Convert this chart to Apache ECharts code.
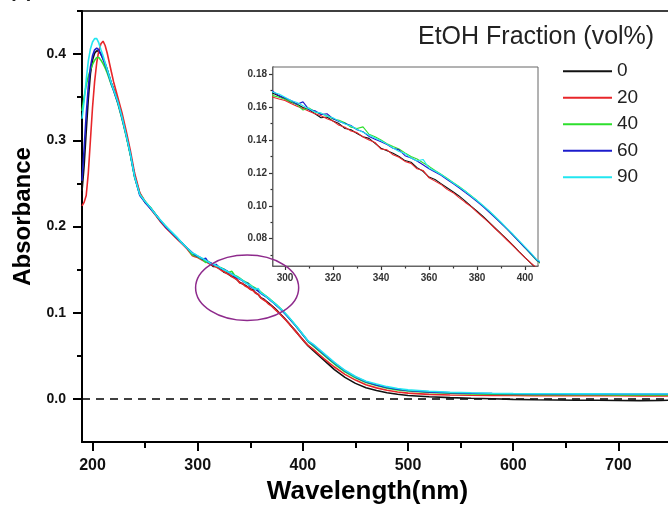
<!DOCTYPE html>
<html>
<head>
<meta charset="utf-8">
<script src="https://cdn.jsdelivr.net/npm/echarts@6/dist/echarts.min.js"></script>
<style>
  html, body { margin: 0; padding: 0; background: #fff; }
  #chart { width: 668px; height: 506px; }
</style>
</head>
<body>
<div id="chart"></div>
<script>
// wavelength grid (nm), shared by all curves
const wavelength = [
  190, 192, 194, 196, 198, 200, 202, 204, 206, 208, 210, 212, 214, 216, 218, 220,
  224, 228, 232, 236, 240,
  245, 250, 255, 260, 265, 270, 275, 280, 285, 290,
  295, 297.5, 300, 302.5, 305, 307.5, 310, 312.5, 315, 317.5, 320, 322.5, 325, 327.5, 330,
  332.5, 335, 337.5, 340, 342.5, 345, 347.5, 350, 352.5, 355, 357.5, 360, 362.5, 365, 367.5,
  370, 372.5, 375, 377.5, 380, 382.5, 385, 387.5, 390, 392.5, 395, 397.5, 400, 402.5, 405,
  410, 415, 420, 425, 430, 440, 450, 460, 470, 480, 490, 500, 520, 540, 560, 580, 600,
  620, 640, 660, 680, 700, 720, 740, 750
];

const etoh0 = [
  0.241, 0.270, 0.310, 0.348, 0.377, 0.393, 0.401, 0.404, 0.403, 0.400, 0.395, 0.389, 0.382, 0.374, 0.366, 0.360,
  0.345, 0.327, 0.307, 0.284, 0.259,
  0.238, 0.228, 0.222, 0.214, 0.206, 0.199, 0.193, 0.187, 0.181, 0.175,
  0.1685, 0.1668, 0.1650, 0.1630, 0.1618, 0.1598, 0.1585, 0.1560, 0.1535, 0.1540, 0.1515, 0.1500, 0.1470, 0.1462, 0.1440,
  0.1420, 0.1410, 0.1380, 0.1350, 0.1335, 0.1320, 0.1300, 0.1275, 0.1265, 0.1232, 0.1210, 0.1175, 0.1160, 0.1135, 0.1110,
  0.1085, 0.1060, 0.1030, 0.0998, 0.0968, 0.0935, 0.0900, 0.0865, 0.0830, 0.0795, 0.0760, 0.0722, 0.0685, 0.0650, 0.0615,
  0.056, 0.0505, 0.045, 0.0395, 0.034, 0.025, 0.018, 0.013, 0.0098, 0.0072, 0.0054, 0.004, 0.0025, 0.0015, 0.0008, 0.0002, -0.0005,
  -0.001, -0.0012, -0.0015, -0.0015, -0.0018, -0.002, -0.0018, -0.0015
];
const etoh20 = [
  0.224, 0.228, 0.236, 0.262, 0.300, 0.338, 0.368, 0.390, 0.404, 0.412, 0.415, 0.410, 0.401, 0.390, 0.379, 0.368,
  0.350, 0.332, 0.311, 0.288, 0.262,
  0.239, 0.229, 0.221, 0.213, 0.205, 0.198, 0.192, 0.186, 0.180, 0.174,
  0.1660, 0.1650, 0.1640, 0.1622, 0.1605, 0.1592, 0.1575, 0.1560, 0.1548, 0.1530, 0.1515, 0.1490, 0.1478, 0.1455, 0.1445,
  0.1418, 0.1400, 0.1385, 0.1345, 0.1340, 0.1310, 0.1295, 0.1270, 0.1258, 0.1225, 0.1215, 0.1170, 0.1150, 0.1130, 0.1100,
  0.1080, 0.1050, 0.1022, 0.0995, 0.0962, 0.0930, 0.0898, 0.0862, 0.0828, 0.0792, 0.0757, 0.0720, 0.0685, 0.0652, 0.0620,
  0.0575, 0.052, 0.0468, 0.0418, 0.037, 0.0285, 0.0218, 0.0165, 0.0128, 0.0100, 0.0080, 0.0067, 0.0053, 0.0046, 0.0042, 0.0040, 0.0039,
  0.0038, 0.0037, 0.0037, 0.0036, 0.0036, 0.0035, 0.0035, 0.0035
];
const etoh40 = [
  0.334, 0.350, 0.364, 0.374, 0.382, 0.388, 0.393, 0.396, 0.396, 0.393, 0.389, 0.384, 0.378, 0.371, 0.364, 0.358,
  0.343, 0.325, 0.305, 0.283, 0.257,
  0.237, 0.229, 0.222, 0.214, 0.206, 0.200, 0.193, 0.187, 0.181, 0.175,
  0.1670, 0.1660, 0.1648, 0.1632, 0.1615, 0.1582, 0.1595, 0.1570, 0.1558, 0.1548, 0.1528, 0.1520, 0.1505, 0.1478, 0.1470,
  0.1480, 0.1435, 0.1420, 0.1400, 0.1378, 0.1360, 0.1345, 0.1322, 0.1300, 0.1285, 0.1262, 0.1240, 0.1215, 0.1192, 0.1168,
  0.1142, 0.1118, 0.1090, 0.1062, 0.1032, 0.1000, 0.0968, 0.0932, 0.0896, 0.0860, 0.0822, 0.0784, 0.0744, 0.0705, 0.0665,
  0.0612, 0.056, 0.0508, 0.0456, 0.0405, 0.0315, 0.0245, 0.019, 0.0155, 0.0125, 0.0105, 0.0092, 0.0075, 0.0065, 0.0058, 0.0054, 0.0051,
  0.005, 0.0049, 0.0048, 0.0048, 0.0047, 0.0047, 0.0047, 0.0047
];
const etoh60 = [
  0.253, 0.290, 0.330, 0.362, 0.385, 0.398, 0.405, 0.407, 0.405, 0.400, 0.394, 0.388, 0.381, 0.373, 0.365, 0.358,
  0.344, 0.326, 0.306, 0.284, 0.258,
  0.236, 0.228, 0.221, 0.214, 0.206, 0.199, 0.193, 0.187, 0.181, 0.175,
  0.1695, 0.1670, 0.1655, 0.1640, 0.1618, 0.1632, 0.1585, 0.1578, 0.1555, 0.1560, 0.1530, 0.1512, 0.1500, 0.1488, 0.1462,
  0.1450, 0.1422, 0.1405, 0.1390, 0.1372, 0.1350, 0.1340, 0.1305, 0.1290, 0.1272, 0.1250, 0.1225, 0.1205, 0.1185, 0.1160,
  0.1135, 0.1110, 0.1082, 0.1055, 0.1025, 0.0995, 0.0962, 0.0928, 0.0893, 0.0858, 0.0820, 0.0783, 0.0745, 0.0706, 0.0668,
  0.0625, 0.0572, 0.052, 0.0468, 0.0418, 0.0325, 0.0255, 0.0198, 0.0162, 0.0132, 0.0112, 0.0098, 0.0082, 0.0072, 0.0066, 0.0062, 0.0059,
  0.0057, 0.0056, 0.0055, 0.0055, 0.0054, 0.0054, 0.0054, 0.0054
];
const etoh90 = [
  0.325, 0.345, 0.370, 0.392, 0.406, 0.414, 0.418, 0.418, 0.413, 0.405, 0.398, 0.390, 0.382, 0.374, 0.366, 0.359,
  0.345, 0.327, 0.306, 0.284, 0.258,
  0.237, 0.229, 0.222, 0.214, 0.207, 0.200, 0.194, 0.188, 0.181, 0.175,
  0.1690, 0.1680, 0.1660, 0.1640, 0.1628, 0.1608, 0.1590, 0.1570, 0.1565, 0.1545, 0.1535, 0.1515, 0.1498, 0.1485, 0.1465,
  0.1448, 0.1430, 0.1412, 0.1395, 0.1375, 0.1352, 0.1330, 0.1318, 0.1290, 0.1272, 0.1282, 0.1230, 0.1212, 0.1190, 0.1165,
  0.1140, 0.1115, 0.1090, 0.1060, 0.1032, 0.1002, 0.0970, 0.0935, 0.0900, 0.0863, 0.0827, 0.0788, 0.0750, 0.0712, 0.0672,
  0.0632, 0.058, 0.0528, 0.0476, 0.0425, 0.0332, 0.026, 0.0205, 0.0172, 0.0142, 0.012, 0.0105, 0.0088, 0.0078, 0.0071, 0.0066, 0.0062,
  0.006, 0.0059, 0.0058, 0.0058, 0.0057, 0.0057, 0.0057, 0.0057
];

const seriesNames = ["0", "20", "40", "60", "90"];
const seriesValues = [etoh0, etoh20, etoh40, etoh60, etoh90];
const seriesColors = ["#111111", "#e8262a", "#2ddf2d", "#1c1ccc", "#22e6f0"];

// tick labels
const mainXTicks = [200, 300, 400, 500, 600, 700];
const mainXMinor = [250, 350, 450, 550, 650, 750];
const mainYTicks = [0, 0.1, 0.2, 0.3, 0.4];
const mainYMinor = [0.05, 0.15, 0.25, 0.35, 0.45];
const insetXTicks = [300, 320, 340, 360, 380, 400];
const insetXMinor = [310, 330, 350, 370, 390];
const insetYTicks = [0.08, 0.10, 0.12, 0.14, 0.16, 0.18];
const insetYMinor = [0.07, 0.09, 0.11, 0.13, 0.15, 0.17];

const FONT = "'Liberation Sans', Arial, sans-serif";

function pairs(vals) {
  return wavelength.map((w, i) => [w, vals[i]]);
}

function tickAxis(base, extra) {
  return Object.assign({
    type: "value",
    splitLine: { show: false },
    axisLine: { show: false, onZero: false },
    axisLabel: { show: false },
    axisTick: { show: false },
  }, base, extra);
}

const chart = echarts.init(document.getElementById("chart"));

const mainX = { gridIndex: 0, min: 190, max: 750, position: "bottom" };
const mainY = { gridIndex: 0, min: -0.05, max: 0.45, position: "left" };
const insetX = { gridIndex: 1, min: 295, max: 405.4, position: "bottom" };
const insetY = { gridIndex: 1, min: 0.0634, max: 0.1844, position: "left" };

const series = [];
seriesNames.forEach((name, k) => {
  series.push({
    name: name,
    type: "line",
    xAxisIndex: 0,
    yAxisIndex: 0,
    data: pairs(seriesValues[k]),
    showSymbol: false,
    symbol: "none",
    color: seriesColors[k],
    lineStyle: { width: 1.6, color: seriesColors[k] },
    z: 3,
    markLine: k === 0 ? {
      silent: true,
      symbol: ["none", "none"],
      label: { show: false },
      lineStyle: { type: [8, 6], color: "#000", width: 1.5 },
      data: [{ yAxis: 0 }],
      z: 2,
    } : undefined,
  });
});
seriesNames.forEach((name, k) => {
  series.push({
    name: name,
    type: "line",
    xAxisIndex: 4,
    yAxisIndex: 4,
    data: pairs(seriesValues[k]),
    showSymbol: false,
    symbol: "none",
    color: seriesColors[k],
    lineStyle: { width: 1.1, color: seriesColors[k] },
    clip: true,
    z: 5,
  });
});

chart.setOption({
  backgroundColor: "#ffffff",
  animation: false,
  textStyle: { fontFamily: FONT },
  title: {
    text: "EtOH Fraction (vol%)",
    left: 413,
    top: 20,
    textStyle: { fontFamily: FONT, fontSize: 25, fontWeight: "normal", color: "#222" },
  },
  legend: {
    orient: "vertical",
    left: 563,
    top: 58,
    padding: 0,
    icon: "rect",
    itemWidth: 49,
    itemHeight: 2,
    itemGap: 0,
    data: seriesNames,
    textStyle: { fontFamily: FONT, fontSize: 19, color: "#222", lineHeight: 26.5 },
  },
  grid: [
    {
      left: 82, top: 11, right: -3, bottom: 64, outerBoundsMode: "none",
      show: true, borderColor: "#000", borderWidth: 1.5, backgroundColor: "transparent",
    },
    {
      left: 273, top: 67, width: 265, height: 199, outerBoundsMode: "none",
      show: true, borderColor: "#666", borderWidth: 1, backgroundColor: "#fff", z: 4,
    },
  ],
  xAxis: [
    tickAxis(mainX, {
      name: "Wavelength(nm)",
      nameLocation: "middle",
      nameGap: 32,
      nameTextStyle: { fontFamily: FONT, fontSize: 26, fontWeight: "bold", color: "#000", padding: [0, 18, 0, 0] },
      axisLine: { show: true, onZero: false, lineStyle: { color: "#000", width: 2 } },
      axisTick: { show: true, inside: false, length: 9, lineStyle: { color: "#000", width: 2 }, customValues: mainXTicks },
      axisLabel: { show: true, customValues: mainXTicks, margin: 16, fontFamily: FONT, fontSize: 16, fontWeight: "bold", color: "#111" },
    }),
    tickAxis(mainX, {
      axisTick: { show: true, length: 6, lineStyle: { color: "#000", width: 2 }, customValues: mainXMinor },
    }),
    tickAxis(insetX, {
      axisLine: { show: true, onZero: false, lineStyle: { color: "#333", width: 1.5 } },
      axisTick: { show: true, length: 4, lineStyle: { color: "#333", width: 1.2 }, customValues: insetXTicks },
      axisLabel: { show: true, customValues: insetXTicks, margin: 7, fontFamily: FONT, fontSize: 10, fontWeight: "bold", color: "#333" },
    }),
    tickAxis(insetX, {
      axisTick: { show: true, length: 2.5, lineStyle: { color: "#333", width: 1.2 }, customValues: insetXMinor },
    }),
    tickAxis(insetX, {}),
  ],
  yAxis: [
    tickAxis(mainY, {
      name: "Absorbance",
      nameLocation: "middle",
      nameGap: 43,
      nameTextStyle: { fontFamily: FONT, fontSize: 24, fontWeight: "bold", color: "#000", padding: [0, 0, 0, 20] },
      axisLine: { show: true, onZero: false, lineStyle: { color: "#000", width: 2 } },
      axisTick: { show: true, length: 9, lineStyle: { color: "#000", width: 2 }, customValues: mainYTicks },
      axisLabel: {
        show: true, customValues: mainYTicks, margin: 16, fontFamily: FONT, fontSize: 14, fontWeight: "bold", color: "#111",
        formatter: (v) => Number(v).toFixed(1),
      },
    }),
    tickAxis(mainY, {
      axisTick: { show: true, length: 5, lineStyle: { color: "#000", width: 2 }, customValues: mainYMinor },
    }),
    tickAxis(insetY, {
      axisLine: { show: true, onZero: false, lineStyle: { color: "#333", width: 1.5 } },
      axisTick: { show: true, length: 4, lineStyle: { color: "#333", width: 1.2 }, customValues: insetYTicks },
      axisLabel: {
        show: true, customValues: insetYTicks, margin: 6, fontFamily: FONT, fontSize: 10, fontWeight: "bold", color: "#333",
        formatter: (v) => Number(v).toFixed(2),
      },
    }),
    tickAxis(insetY, {
      axisTick: { show: true, length: 2.5, lineStyle: { color: "#333", width: 1.2 }, customValues: insetYMinor },
    }),
    tickAxis(insetY, {}),
  ],
  series: series,
});

// purple ellipse marking the zoomed region, placed in data coordinates
const ellipseCenter = [347, 0.129];
const ellipseHalf = [49, 0.038];
const c = chart.convertToPixel({ xAxisIndex: 0, yAxisIndex: 0 }, ellipseCenter);
const e = chart.convertToPixel({ xAxisIndex: 0, yAxisIndex: 0 },
  [ellipseCenter[0] + ellipseHalf[0], ellipseCenter[1] + ellipseHalf[1]]);
chart.setOption({
  graphic: [
    {
      type: "ellipse",
      silent: true,
      z: 10,
      shape: { cx: c[0], cy: c[1], rx: Math.abs(e[0] - c[0]), ry: Math.abs(c[1] - e[1]) },
      style: { fill: null, stroke: "#8e2a8c", lineWidth: 1.5 },
    },
    {
      type: "text",
      silent: true,
      left: 9,
      top: -19,
      style: { text: "(a)", font: "bold 20px " + FONT, fill: "#222" },
    },
  ],
});
</script>
</body>
</html>
